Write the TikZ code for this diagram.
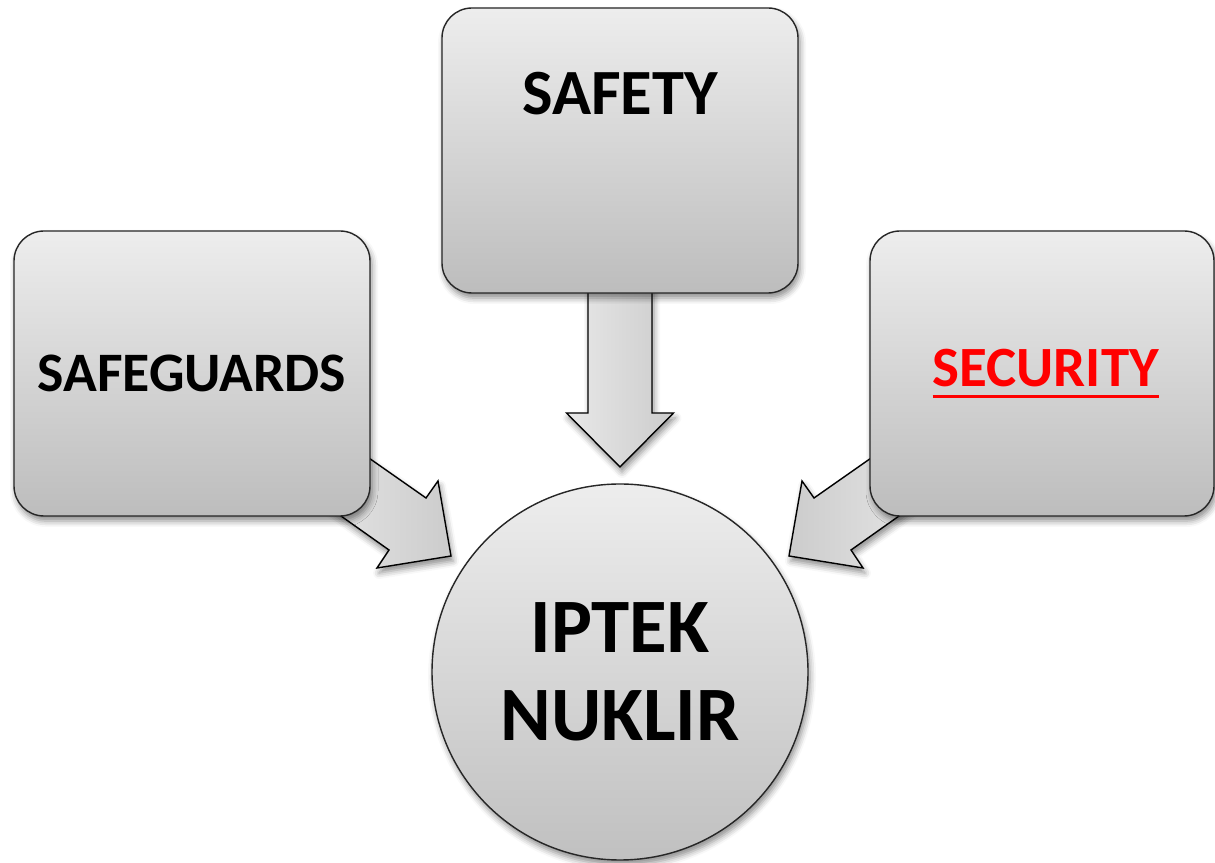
\documentclass[tikz,border=0pt]{standalone}
\usepackage{fontspec}
\setmainfont{Carlito}
\usetikzlibrary{shadows.blur,positioning}
\tikzset{>=latex}

\definecolor{boxtop}{gray}{0.93}
\definecolor{boxbottom}{gray}{0.74}
\definecolor{arrowlight}{gray}{0.91}
\definecolor{arrowdark}{gray}{0.80}
\definecolor{securityred}{RGB}{255,0,0}

% thick underline, as under the red word
\newcommand{\garisbawah}[1]{\setbox0=\hbox{#1}\rlap{\vrule height -0.14em depth 0.195em width \wd0}\box0}

\tikzset{
	softshadow/.style={blur shadow={shadow xshift=0.04cm, shadow yshift=-0.1cm, shadow blur radius=0.12cm, shadow opacity=45}},
	topicbox/.style={draw=black!85, line width=0.8pt, rounded corners=0.6cm, top color=boxtop, bottom color=boxbottom, minimum width=7.12cm, minimum height=5.7cm, softshadow, font=\fontsize{31.7}{36}\selectfont\bfseries},
	titletext/.style={font=\fontsize{36.7}{40}\selectfont\bfseries},
	corecircle/.style={circle, draw=black!85, line width=0.8pt, top color=boxtop, bottom color=boxbottom!95, minimum size=7.52cm, softshadow, align=center, font=\fontsize{43.8}{50}\selectfont\bfseries},
	blockarrow/.style={draw=black, line width=0.8pt, left color=arrowlight, right color=arrowdark, softshadow}
}

\begin{document}
\begin{tikzpicture}
	\useasboundingbox (0,0) rectangle (24.3,17.26);
	
	% Block arrow corners
	\coordinate (d1) at (11.76,12.0);
	\coordinate (d2) at (11.76,9.0);
	\coordinate (d3) at (11.33,9.0);
	\coordinate (dtip) at (12.4,7.92); % points to the circle
	\coordinate (d4) at (13.47,9.0);
	\coordinate (d5) at (13.04,9.0);
	\coordinate (d6) at (13.04,12.0);
	
	\coordinate (l1) at (6.52,8.70);
	\coordinate (l2) at (8.52,7.30);
	\coordinate (l3) at (8.76,7.64);
	\coordinate (ltip) at (9.02,6.14);
	\coordinate (l4) at (7.54,5.90);
	\coordinate (l5) at (7.78,6.26);
	\coordinate (l6) at (6.00,7.52);
	
	\coordinate (r1) at (18.28,8.70);
	\coordinate (r2) at (16.28,7.30);
	\coordinate (r3) at (16.04,7.64);
	\coordinate (rtip) at (15.78,6.14);
	\coordinate (r4) at (17.26,5.90);
	\coordinate (r5) at (17.02,6.26);
	\coordinate (r6) at (18.80,7.52);
	
	% Drawing the arrows (behind the boxes)
	\draw[blockarrow] (d1) -- (d2) -- (d3) -- (dtip) -- (d4) -- (d5) -- (d6) -- cycle;
	\draw[blockarrow] (l1) -- (l2) -- (l3) -- (ltip) -- (l4) -- (l5) -- (l6) -- cycle;
	\draw[blockarrow, left color=arrowdark, right color=arrowlight] (r1) -- (r2) -- (r3) -- (rtip) -- (r4) -- (r5) -- (r6) -- cycle;
	
	% Boxes and circle
	\node[topicbox, label={[titletext, yshift=1.13cm]center:SAFETY}] (safety) at (12.4,14.25) {};
	\node[topicbox] (safeguards) at (3.84,9.79) {SAFEGUARDS};
	\node[topicbox, minimum width=6.88cm, text=securityred, font=\fontsize{32.4}{36}\selectfont\bfseries] (security) at (20.84,9.79) {\hspace{0.15cm}\garisbawah{SECURITY}};
	\node[corecircle] (iptek) at (12.4,3.82) {IPTEK\\NUKLIR};
	
\end{tikzpicture}
\end{document}
